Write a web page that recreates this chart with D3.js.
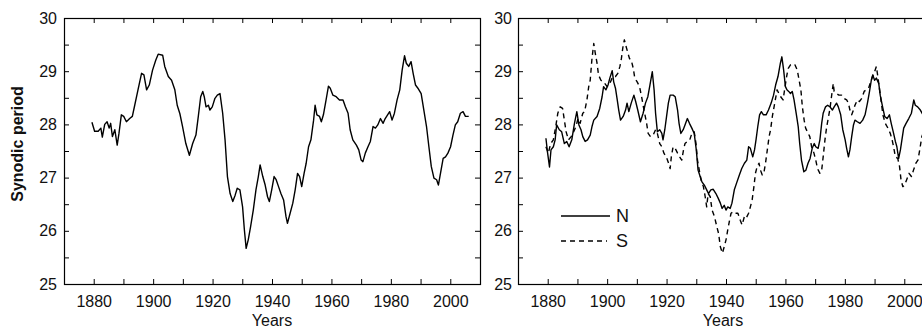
<!DOCTYPE html>
<html>
<head>
<meta charset="utf-8">
<script src="https://cdn.jsdelivr.net/npm/d3@7"></script>
<style>
  html, body { margin: 0; padding: 0; background: #fff; overflow: hidden; }
  svg { display: block; }
  text { font-family: "Liberation Sans", Arial, sans-serif; fill: #111; }
</style>
</head>
<body>
<svg id="chart" width="922" height="329"></svg>
<script>
// Whole-Sun synodic rotation period (days)
const allYears = [1879.4,1880.3,1881.5,1882.4,1882.9,1883.7,1884.5,1885.2,1885.7,1886.3,1887.1,1887.9,1888.5,1889.3,1890.1,1891.0,1892.1,1893.0,1893.8,1894.9,1896.1,1896.9,1897.8,1898.7,1899.8,1900.9,1901.7,1903.2,1903.9,1905.1,1906.2,1907.3,1908.1,1909.0,1909.9,1911.0,1912.2,1913.3,1914.4,1915.2,1916.0,1916.7,1917.2,1917.8,1918.6,1919.1,1919.9,1920.8,1921.6,1922.5,1923.4,1924.2,1925.0,1925.9,1926.8,1927.6,1928.3,1929.2,1930.1,1930.7,1931.3,1932.0,1932.8,1933.7,1934.6,1935.4,1936.0,1936.9,1937.7,1938.5,1939.1,1939.9,1940.7,1941.4,1942.2,1943.0,1943.9,1944.7,1945.2,1946.1,1947.0,1947.8,1948.6,1949.3,1950.0,1950.8,1951.5,1952.3,1953.1,1954.0,1954.5,1955.1,1956.0,1956.6,1957.3,1958.2,1959.0,1959.6,1960.5,1961.6,1962.7,1963.9,1964.7,1965.6,1966.3,1967.2,1968.4,1969.2,1970.0,1970.6,1971.4,1972.3,1973.1,1974.0,1974.8,1975.6,1976.5,1977.4,1978.1,1978.9,1979.6,1980.4,1981.2,1982.1,1983.0,1983.8,1984.6,1985.2,1986.0,1986.8,1987.5,1988.3,1989.1,1990.2,1991.1,1992.0,1992.8,1993.6,1994.5,1995.4,1996.0,1996.7,1997.6,1998.4,1999.2,2000.1,2000.9,2001.7,2002.5,2003.4,2004.3,2005.1,2006.2];
const allPeriod = [28.04,27.87,27.87,27.93,27.76,28.0,28.05,27.93,28.02,27.77,27.9,27.61,27.83,28.18,28.15,28.05,28.11,28.15,28.36,28.65,28.96,28.93,28.65,28.74,29.02,29.21,29.32,29.3,29.09,28.9,28.83,28.65,28.36,28.2,27.96,27.64,27.42,27.64,27.8,28.15,28.52,28.62,28.52,28.33,28.36,28.27,28.33,28.49,28.55,28.58,28.21,27.71,27.02,26.7,26.55,26.67,26.8,26.77,26.45,26.02,25.67,25.83,26.08,26.39,26.77,27.02,27.24,27.02,26.86,26.64,26.55,26.77,27.02,26.96,26.83,26.7,26.58,26.27,26.14,26.33,26.52,26.77,27.08,27.02,26.83,27.08,27.27,27.58,27.71,28.08,28.36,28.18,28.15,28.05,28.18,28.46,28.72,28.68,28.55,28.52,28.46,28.46,28.33,28.21,27.9,27.71,27.61,27.52,27.33,27.3,27.46,27.58,27.68,27.96,27.93,27.99,28.11,28.02,28.11,28.18,28.24,28.08,28.21,28.46,28.65,29.02,29.29,29.15,29.09,29.18,28.96,28.74,28.68,28.58,28.27,27.96,27.58,27.21,26.99,26.96,26.86,27.08,27.36,27.39,27.46,27.58,27.8,27.99,28.05,28.21,28.24,28.15,28.15];

// Northern hemisphere (N)
const northYears = [1879.4,1879.9,1880.6,1881.1,1881.9,1882.5,1883.0,1883.9,1884.7,1885.6,1886.4,1887.2,1888.1,1889.0,1889.8,1890.5,1891.2,1891.8,1892.6,1893.4,1894.3,1894.9,1895.5,1896.6,1897.5,1898.3,1898.8,1899.6,1900.3,1900.9,1901.7,1902.2,1902.8,1903.4,1903.9,1904.5,1905.4,1906.2,1906.7,1907.3,1908.1,1909.0,1909.6,1910.3,1911.2,1912.1,1912.9,1913.7,1914.4,1915.2,1915.8,1916.3,1916.9,1917.7,1918.4,1918.8,1919.4,1920.0,1920.6,1921.2,1922.2,1922.9,1923.7,1924.2,1924.8,1925.6,1926.2,1927.0,1927.7,1928.5,1929.3,1930.0,1930.6,1931.3,1931.9,1932.7,1933.5,1934.1,1934.9,1935.7,1936.6,1937.4,1938.1,1938.7,1939.4,1940.0,1940.6,1941.4,1942.0,1942.8,1943.7,1944.5,1945.3,1946.2,1947.0,1947.6,1948.2,1949.0,1949.6,1950.1,1950.7,1951.3,1951.9,1952.6,1953.5,1954.3,1955.2,1956.0,1956.7,1957.5,1958.3,1958.8,1959.4,1960.0,1960.5,1961.1,1961.7,1962.3,1962.9,1963.7,1964.3,1964.8,1965.4,1966.2,1966.9,1967.6,1968.3,1969.0,1969.7,1970.2,1971.0,1971.6,1972.2,1972.7,1973.5,1974.2,1975.0,1975.8,1976.4,1977.2,1977.8,1978.6,1979.3,1980.1,1980.6,1981.2,1981.7,1982.3,1982.9,1983.4,1984.2,1985.1,1986.0,1986.8,1987.6,1988.3,1988.9,1989.4,1990.0,1990.6,1991.4,1991.9,1992.7,1993.4,1994.2,1995.0,1995.6,1996.4,1997.0,1997.5,1998.1,1998.7,1999.2,1999.8,2000.6,2001.5,2002.4,2003.2,2003.7,2004.5,2005.4,2006.3];
const northPeriod = [27.74,27.49,27.2,27.52,27.58,27.71,27.99,27.9,27.86,27.64,27.68,27.58,27.71,28.02,28.24,27.99,27.9,27.77,27.68,27.71,27.8,27.96,28.08,28.15,28.3,28.52,28.71,28.65,28.74,28.87,29.01,28.8,28.68,28.46,28.27,28.08,28.15,28.27,28.4,28.24,28.4,28.55,28.43,28.27,28.05,28.21,28.4,28.52,28.74,28.99,28.65,28.21,27.86,27.9,27.83,27.71,27.9,28.15,28.4,28.55,28.55,28.52,28.27,28.02,27.83,27.9,27.99,28.11,28.02,27.93,27.83,27.52,27.14,27.02,26.92,26.86,26.77,26.7,26.77,26.78,26.7,26.61,26.52,26.42,26.48,26.39,26.45,26.42,26.52,26.77,26.92,27.05,27.17,27.27,27.33,27.58,27.55,27.39,27.52,27.71,27.96,28.18,28.24,28.18,28.18,28.27,28.4,28.55,28.74,28.9,29.15,29.27,29.02,28.71,28.65,28.62,28.58,28.62,28.46,28.18,27.96,27.64,27.33,27.11,27.14,27.27,27.36,27.55,27.64,27.58,27.55,27.71,28.02,28.21,28.33,28.36,28.33,28.27,28.33,28.4,28.33,28.18,27.9,27.71,27.55,27.39,27.52,27.77,27.99,28.08,28.05,28.02,28.08,28.18,28.4,28.62,28.83,28.93,28.83,28.87,28.77,28.55,28.33,28.15,28.11,28.18,28.02,27.83,27.68,27.58,27.36,27.52,27.71,27.93,28.02,28.11,28.21,28.46,28.36,28.33,28.27,28.18];

// Southern hemisphere (S)
const southYears = [1879.4,1880.2,1881.0,1881.9,1882.7,1883.4,1884.2,1885.0,1885.6,1886.2,1887.0,1887.9,1888.7,1889.5,1890.2,1890.9,1891.8,1892.4,1893.2,1893.8,1894.3,1894.9,1895.5,1896.0,1896.6,1897.1,1897.9,1898.8,1900.0,1900.9,1901.9,1902.8,1903.6,1904.3,1904.8,1905.4,1905.8,1906.4,1907.0,1907.5,1908.1,1908.8,1909.3,1910.1,1910.9,1911.6,1912.4,1913.2,1913.8,1914.6,1915.5,1916.3,1916.9,1917.7,1918.4,1919.1,1919.9,1920.5,1921.2,1921.6,1922.2,1922.9,1923.7,1924.4,1925.1,1925.7,1926.2,1927.0,1927.8,1928.5,1929.3,1929.9,1930.4,1931.0,1931.6,1932.4,1933.0,1933.5,1934.0,1934.7,1935.3,1936.1,1936.9,1937.5,1938.1,1938.8,1939.4,1940.0,1940.6,1941.1,1941.7,1942.5,1943.2,1944.0,1944.8,1945.4,1946.2,1946.8,1947.6,1948.2,1948.8,1949.4,1949.9,1950.5,1951.1,1951.6,1952.2,1952.8,1953.3,1953.9,1954.5,1955.0,1955.6,1956.4,1957.2,1957.8,1958.4,1959.2,1959.8,1960.4,1960.9,1961.7,1962.4,1963.2,1964.0,1964.6,1965.2,1965.7,1966.3,1966.8,1967.4,1968.2,1968.8,1969.6,1970.2,1970.8,1971.6,1972.2,1972.7,1973.3,1973.9,1974.4,1975.0,1975.5,1976.1,1976.4,1977.2,1978.0,1978.9,1979.7,1980.6,1981.2,1981.7,1982.3,1982.9,1983.4,1984.2,1984.9,1985.7,1986.5,1987.2,1988.0,1988.5,1989.3,1990.0,1990.6,1991.1,1991.7,1992.3,1992.8,1993.6,1994.5,1995.3,1995.9,1996.4,1997.0,1997.8,1998.4,1998.9,1999.5,2000.1,2000.8,2001.6,2002.4,2003.1,2003.9,2004.6,2005.2,2005.9,2006.5];
const southPeriod = [27.58,27.46,27.64,27.71,27.96,28.21,28.33,28.3,28.08,27.86,27.71,27.77,27.86,27.96,28.11,28.02,28.21,28.24,28.46,28.71,28.83,29.24,29.52,29.34,29.15,28.93,28.83,28.8,28.71,28.77,28.9,28.9,28.96,29.09,29.24,29.49,29.59,29.46,29.34,29.24,29.21,29.05,28.87,28.8,28.71,28.52,28.27,28.05,27.83,27.77,27.8,27.9,27.83,27.64,27.58,27.46,27.39,27.3,27.17,27.39,27.58,27.55,27.46,27.39,27.33,27.52,27.64,27.68,27.71,27.83,27.86,27.64,27.33,27.14,26.96,26.83,26.64,26.45,26.7,26.64,26.39,26.27,26.08,25.95,25.7,25.58,25.7,25.83,26.02,26.17,26.33,26.36,26.33,26.33,26.2,26.11,26.27,26.24,26.33,26.45,26.58,26.83,27.08,27.21,27.27,27.14,27.05,27.11,27.27,27.52,27.77,27.9,28.15,28.4,28.65,28.58,28.52,28.46,28.68,28.9,29.05,29.12,29.14,29.12,29.02,28.83,28.65,28.33,28.08,27.93,27.86,27.77,27.58,27.46,27.33,27.17,27.08,27.14,27.39,27.71,27.96,28.11,28.3,28.52,28.77,28.62,28.58,28.55,28.55,28.49,28.46,28.4,28.27,28.18,28.27,28.36,28.46,28.43,28.49,28.62,28.65,28.68,28.77,28.9,28.99,29.09,28.9,28.65,28.4,28.18,28.02,27.93,27.83,27.71,27.58,27.39,27.36,27.21,26.96,26.83,26.86,26.96,27.08,27.02,27.14,27.27,27.33,27.52,27.77,27.86];

const xDomain = [1870, 2010];
const yDomain = [25, 30];
const majorYearTicks = d3.range(1880, 2010, 10);
const yTicks = d3.range(25, 30.01, 0.5);

const svg = d3.select("#chart");

const panelW = 416, panelTop = 18, panelBottom = 284, tick = 5;

function drawPanel(left, series, opts) {
  const x = d3.scaleLinear().domain(xDomain).range([left, left + panelW]);
  const y = d3.scaleLinear().domain(yDomain).range([panelBottom, panelTop]);
  const g = svg.append("g");

  const fmtX = d => (d % 20 === 0 ? d : "");
  const fmtY = d => (Number.isInteger(d) ? d : "");

  const styleAxis = sel => {
    sel.select(".domain").remove();
    sel.selectAll("line").attr("stroke", "#000").attr("stroke-width", 1);
    sel.selectAll("text").attr("font-size", 16).attr("fill", "#111")
      .attr("font-family", "'Liberation Sans', Arial, sans-serif");
  };

  g.append("g").attr("transform", `translate(0,${panelBottom})`)
    .call(d3.axisBottom(x).tickValues(majorYearTicks).tickFormat(fmtX).tickSize(-tick).tickPadding(12))
    .call(styleAxis);
  g.append("g").attr("transform", `translate(0,${panelTop})`)
    .call(d3.axisTop(x).tickValues(majorYearTicks).tickFormat("").tickSize(-tick))
    .call(styleAxis);
  g.append("g").attr("transform", `translate(${left},0)`)
    .call(d3.axisLeft(y).tickValues(yTicks).tickFormat(fmtY).tickSize(-tick).tickPadding(opts.yPad))
    .call(styleAxis);
  g.append("g").attr("transform", `translate(${left + panelW},0)`)
    .call(d3.axisRight(y).tickValues(yTicks).tickFormat("").tickSize(-tick))
    .call(styleAxis);

  g.append("rect")
    .attr("x", left + 0.5).attr("y", panelTop + 0.5)
    .attr("width", panelW).attr("height", panelBottom - panelTop)
    .attr("fill", "none").attr("stroke", "#000").attr("stroke-width", 1.2);

  const line = d3.line().x(d => x(d[0])).y(d => y(d[1]));
  series.forEach(s => {
    g.append("path")
      .datum(d3.zip(s.years, s.values))
      .attr("d", line)
      .attr("fill", "none")
      .attr("stroke", "#000")
      .attr("stroke-width", 1.4)
      .attr("stroke-linejoin", "round")
      .attr("stroke-dasharray", s.dash || null);
  });

  g.append("text")
    .attr("x", opts.xLabelX != null ? opts.xLabelX : left + panelW / 2)
    .attr("y", 325.5)
    .attr("text-anchor", "middle")
    .attr("font-size", 16)
    .text("Years");

  return { x, y, g };
}

// Left: whole-disk period
const leftPanel = drawPanel(64, [{ years: allYears, values: allPeriod }], { yPad: 7 });
svg.append("text")
  .attr("transform", "translate(23,144) rotate(-90)")
  .attr("text-anchor", "middle")
  .attr("font-size", 16)
  .attr("font-weight", "bold")
  .text("Synodic period");

// Right: north vs south hemispheres
const rightPanel = drawPanel(518, [
  { years: northYears, values: northPeriod },
  { years: southYears, values: southPeriod, dash: "5,4" }
], { yPad: 6, xLabelX: 723 });

// Legend
const legend = [
  { label: "N", dash: null, y: 216, x2: 610 },
  { label: "S", dash: "5,4", y: 241, x2: 607 }
];
legend.forEach(l => {
  svg.append("line")
    .attr("x1", 561).attr("x2", l.x2).attr("y1", l.y).attr("y2", l.y)
    .attr("stroke", "#000").attr("stroke-width", 1.4)
    .attr("stroke-dasharray", l.dash);
  svg.append("text")
    .attr("x", 616).attr("y", l.y).attr("dy", "0.36em")
    .attr("font-size", 18)
    .text(l.label);
});
</script>
</body>
</html>
